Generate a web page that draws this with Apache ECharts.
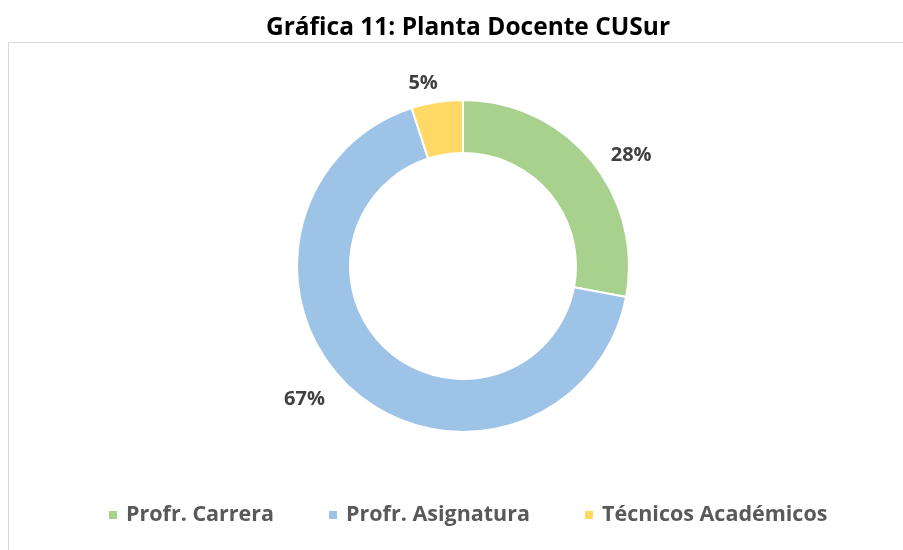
<!DOCTYPE html>
<html>
<head>
<meta charset="utf-8">
<script src="https://cdn.jsdelivr.net/npm/echarts@6/dist/echarts.min.js"></script>
<style>
    html, body { margin: 0; padding: 0; background: #fff; }
    #main { width: 903px; height: 550px; }
</style>
</head>
<body>
<div id="main"></div>
<script>
var categories = ['Profr. Carrera', 'Profr. Asignatura', 'Técnicos Académicos'];
var values = [28, 67, 5];
var colors = ['#a9d18e', '#9dc3e6', '#ffd966'];

var pieData = categories.map(function(name, i){
    return { name: name, value: values[i], itemStyle: { color: colors[i] } };
});

// small nudges so labels sit where Excel put them
var labelNudge = [[-2, 4], [-8, -2], [14, -5]];

var chart = echarts.init(document.getElementById('main'));
chart.setOption({
    animation: false,
    textStyle: { fontFamily: 'Open Sans' },
    title: {
        text: 'Gráfica 11: Planta Docente CUSur',
        left: 463,
        textAlign: 'center',
        top: 11,
        textStyle: { fontSize: 24.5, fontWeight: 'bold', color: '#000', fontFamily: 'Open Sans' }
    },
    graphic: [{
        type: 'rect',
        shape: { x: 8.5, y: 42.5, width: 900, height: 520 },
        style: { fill: 'none', stroke: '#d9d9d9', lineWidth: 1 },
        silent: true
    }],
    legend: {
        bottom: 19,
        left: 102,
        itemWidth: 10,
        itemHeight: 10,
        itemGap: 53,
        icon: 'rect',
        textStyle: { fontSize: 21.5, fontWeight: 'bold', color: '#595959', padding: [0, 0, 0, 3] },
        data: categories
    },
    series: [{
        type: 'pie',
        center: [463, 266],
        radius: [113, 166],
        startAngle: 90,
        clockwise: true,
        itemStyle: { borderColor: '#fff', borderWidth: 2 },
        label: {
            show: true,
            position: 'outside',
            formatter: '{c}%',
            fontSize: 20,
            fontWeight: 'bold',
            color: '#404040'
        },
        labelLine: { show: false, length: 14, length2: 6 },
        labelLayout: function(params){
            var n = labelNudge[params.dataIndex];
            return { dx: n[0], dy: n[1] };
        },
        data: pieData
    }]
});
</script>
</body>
</html>
